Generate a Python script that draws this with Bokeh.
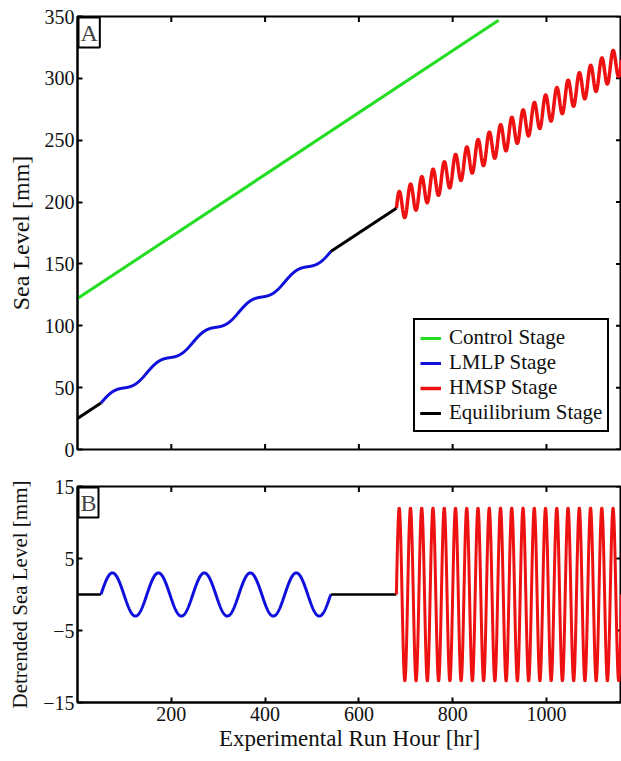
import numpy as np
from bokeh.plotting import figure
from bokeh.models import Range1d, FixedTicker, Label, Legend, LegendItem
from bokeh.layouts import column
from bokeh.embed import file_html
from bokeh.resources import INLINE

FONT = "Liberation Serif"

# ---- data ----
stage_names = ["Control Stage", "LMLP Stage", "HMSP Stage", "Equilibrium Stage"]
stage_colors = ["#22dd22", "#1010dd", "#ee1111", "#000000"]

control_hours = [0, 898]
control_level = [122, 347]

equilibrium1_hours = [0, 50]
lmlp_hours = [50, 540]
equilibrium2_hours = [540, 680]
hmsp_hours = [680, 1160]

trend_intercept = 25.0   # mm at hour 0
trend_slope = 0.25       # mm per hour

lmlp_amplitude = 3.0     # mm
lmlp_period = 98.0       # hr
hmsp_amplitude = 12.0    # mm
hmsp_period = 24.0       # hr

x_ticks = [200, 400, 600, 800, 1000]
a_y_ticks = [0, 50, 100, 150, 200, 250, 300, 350]
b_y_ticks = [-15, -5, 5, 15]

X_MIN, X_MAX = 0, 1160


def wave(hours, amp, period, n):
    t = np.linspace(hours[0], hours[1], n)
    return t, amp * np.sin(2 * np.pi * (t - hours[0]) / period)


def flat(hours):
    t = np.array(hours, dtype=float)
    return t, np.zeros_like(t)


t_e1, d_e1 = flat(equilibrium1_hours)
t_l, d_l = wave(lmlp_hours, lmlp_amplitude, lmlp_period, 1200)
t_e2, d_e2 = flat(equilibrium2_hours)
t_h, d_h = wave(hmsp_hours, hmsp_amplitude, hmsp_period, 4000)


def trend(t):
    return trend_intercept + trend_slope * t


def tick_marks(p, yticks, ymin, ymax, bottom_too):
    # inward box ticks on the top, right (and optionally bottom) edges, clipped by the frame
    kw = dict(marker="dash", size=11, line_width=2, line_color="black")
    p.scatter(x_ticks, [ymax] * len(x_ticks), angle=np.pi / 2, **kw)
    if bottom_too:
        p.scatter(x_ticks, [ymin] * len(x_ticks), angle=np.pi / 2, **kw)
    p.scatter([X_MAX] * len(yticks), yticks, angle=0, **kw)


def style(p, yticks, ylabel, ylabel_size, show_x, xlabel=None):
    p.xgrid.grid_line_color = None
    p.ygrid.grid_line_color = None
    p.outline_line_color = "black"
    p.outline_line_width = 2
    p.outline_line_alpha = 1
    p.background_fill_color = "white"
    p.border_fill_color = "white"
    xa = p.xaxis[0]
    ya = p.yaxis[0]
    xa.ticker = FixedTicker(ticks=x_ticks)
    ya.ticker = FixedTicker(ticks=yticks)
    for ax in [xa, ya]:
        ax.major_tick_in = 5
        ax.major_tick_out = 0
        ax.minor_tick_line_color = None
        ax.axis_line_width = 2
        ax.major_tick_line_width = 2
        ax.axis_line_color = "black"
        ax.major_tick_line_color = "black"
        ax.major_label_text_font = FONT
        ax.major_label_text_font_size = "20px"
        ax.major_label_text_color = "#111111"
        ax.axis_label_text_font = FONT
        ax.axis_label_text_font_style = "normal"
        ax.axis_label_text_color = "#111111"
    ya.axis_label = ylabel
    ya.axis_label_text_font_size = ylabel_size
    ya.major_label_standoff = 3
    ya.axis_label_standoff = 8
    if show_x:
        xa.axis_label = xlabel
        xa.axis_label_text_font_size = "23px"
        xa.major_label_standoff = 4
        xa.axis_label_standoff = 2
    else:
        xa.visible = False


# ---- panel A ----
pA = figure(width=621, height=468, x_range=Range1d(X_MIN, X_MAX), y_range=Range1d(0, 350),
            output_backend="svg", toolbar_location=None,
            min_border_left=77, min_border_top=16, min_border_bottom=19, min_border_right=0)
style(pA, a_y_ticks, "Sea Level [mm]", "24px", False)
tick_marks(pA, a_y_ticks, 0, 350, True)

rc = pA.line(control_hours, control_level, line_color=stage_colors[0], line_width=3)
rl = pA.line(t_l, trend(t_l) + d_l, line_color=stage_colors[1], line_width=3)
rh = pA.line(t_h, trend(t_h) + d_h, line_color=stage_colors[2], line_width=3.5)
re1 = pA.line(t_e1, trend(t_e1), line_color=stage_colors[3], line_width=3)
re2 = pA.line(t_e2, trend(t_e2), line_color=stage_colors[3], line_width=3)

legend = Legend(items=[LegendItem(label=stage_names[0], renderers=[rc]),
                       LegendItem(label=stage_names[1], renderers=[rl]),
                       LegendItem(label=stage_names[2], renderers=[rh]),
                       LegendItem(label=stage_names[3], renderers=[re1, re2])],
                location=(336, 17))
legend.label_text_font = FONT
legend.label_text_font_size = "21px"
legend.label_text_color = "#111111"
legend.glyph_width = 21
legend.glyph_height = 16
legend.label_height = 16
legend.label_standoff = 8
legend.spacing = 0
legend.padding = 5
legend.margin = 0
legend.border_line_color = "black"
legend.border_line_alpha = 1
legend.border_line_width = 2
legend.background_fill_alpha = 1
pA.add_layout(legend)

pA.add_layout(Label(x=0, y=350, text="A", text_font=FONT, text_font_size="24px",
                    text_align="left", text_baseline="top", x_offset=1, y_offset=-1,
                    border_line_color="black", border_line_width=2,
                    background_fill_color="white", padding=2))

# ---- panel B ----
pB = figure(width=621, height=293, x_range=Range1d(X_MIN, X_MAX), y_range=Range1d(-15, 15),
            output_backend="svg", toolbar_location=None,
            min_border_left=77, min_border_top=18, min_border_bottom=59, min_border_right=0)
style(pB, b_y_ticks, "Detrended Sea Level [mm]", "21px", True, "Experimental Run Hour [hr]")
tick_marks(pB, b_y_ticks, -15, 15, False)

pB.line(t_e1, d_e1, line_color=stage_colors[3], line_width=2.5)
pB.line(t_l, d_l, line_color=stage_colors[1], line_width=3)
pB.line(t_e2, d_e2, line_color=stage_colors[3], line_width=2.5)
pB.line(np.concatenate([[hmsp_hours[0]], t_h]), np.concatenate([[0.0], d_h]),
        line_color=stage_colors[2], line_width=3)

pB.add_layout(Label(x=0, y=15, text="B", text_font=FONT, text_font_size="24px",
                    text_align="left", text_baseline="top", x_offset=1, y_offset=-1,
                    border_line_color="black", border_line_width=2,
                    background_fill_color="white", padding=2))

layout = column(pA, pB, spacing=0)
open("out.html", "w").write(file_html(layout, INLINE))
